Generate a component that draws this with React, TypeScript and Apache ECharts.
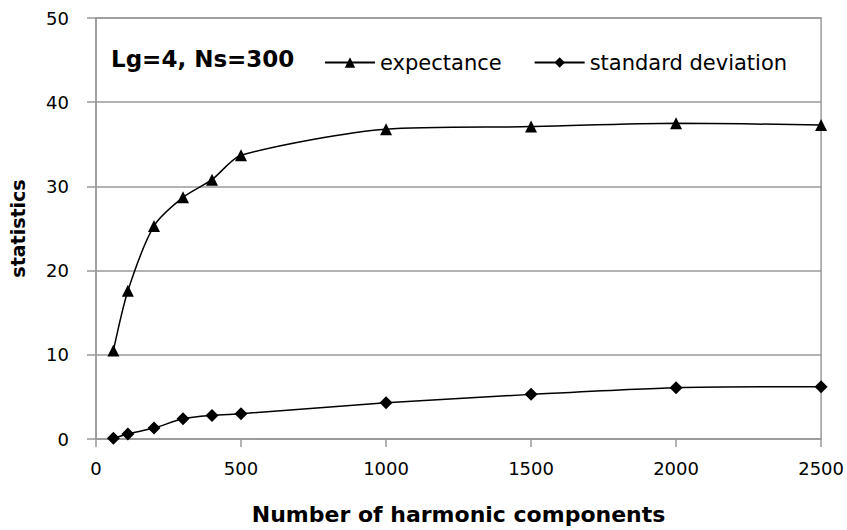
import React, { useEffect, useRef } from "react";
import * as echarts from "echarts";

const harmonics = [60, 110, 200, 300, 400, 500, 1000, 1500, 2000, 2500];
const expectance = [10.5, 17.6, 25.3, 28.7, 30.8, 33.7, 36.8, 37.1, 37.5, 37.3];
const stdDeviation = [0.1, 0.6, 1.3, 2.4, 2.8, 3.0, 4.3, 5.3, 6.1, 6.2];
const seriesNames = ["expectance", "standard deviation"];
const annotation = "Lg=4, Ns=300";
const xTitle = "Number of harmonic components";
const yTitle = "statistics";

const FONT = "'DejaVu Sans', sans-serif";

export default function App() {
  const ref = useRef<HTMLDivElement>(null);
  useEffect(() => {
    if (!ref.current) return;
    const chart = echarts.init(ref.current, undefined, { renderer: "svg" });
    const pair = (ys: number[]) => harmonics.map((x, i) => [x, ys[i]]);
    chart.setOption({
      animation: false,
      backgroundColor: "#ffffff",
      textStyle: { fontFamily: FONT },
      grid: {
        left: 90,
        right: 25,
        top: 18,
        bottom: 89,
        show: true,
        borderColor: "#9a9a9a",
        borderWidth: 1.5,
      },
      graphic: [
        {
          type: "text",
          left: 111,
          top: 47,
          style: {
            text: annotation,
            font: `bold 23px ${FONT}`,
            fill: "#000",
          },
        },
      ],
      legend: {
        left: 319,
        top: 47,
        itemWidth: 50,
        itemHeight: 13,
        itemGap: 32,
        textStyle: { fontSize: 21, color: "#000", fontFamily: FONT },
        data: seriesNames,
      },
      xAxis: {
        type: "value",
        min: 0,
        max: 2500,
        interval: 500,
        name: xTitle,
        nameLocation: "middle",
        nameGap: 64,
        nameTextStyle: { fontSize: 22, fontWeight: "bold", color: "#000", fontFamily: FONT },
        axisLine: { show: true, lineStyle: { color: "#9a9a9a", width: 1.5 } },
        axisTick: { show: true, length: 8, lineStyle: { color: "#9a9a9a", width: 1.5 } },
        axisLabel: {
          fontSize: 18,
          color: "#000",
          margin: 20,
          fontFamily: FONT,
          formatter: (v: number) => String(v),
        },
        splitLine: { show: false },
      },
      yAxis: {
        type: "value",
        min: 0,
        max: 50,
        interval: 10,
        name: yTitle,
        nameLocation: "middle",
        nameGap: 69,
        nameTextStyle: { fontSize: 19, fontWeight: "bold", color: "#000", fontFamily: FONT },
        axisLine: { show: true, lineStyle: { color: "#9a9a9a", width: 1.5 } },
        axisTick: { show: true, length: 9, lineStyle: { color: "#9a9a9a", width: 1.5 } },
        axisLabel: { fontSize: 18, color: "#000", margin: 27, fontFamily: FONT },
        splitLine: { show: true, lineStyle: { color: "#9a9a9a", width: 1.5 } },
      },
      series: [
        {
          name: seriesNames[0],
          type: "line",
          data: pair(expectance),
          smooth: 0.25,
          symbol: "triangle",
          symbolSize: 12,
          itemStyle: { color: "#000" },
          lineStyle: { color: "#000", width: 1.5 },
        },
        {
          name: seriesNames[1],
          type: "line",
          data: pair(stdDeviation),
          smooth: 0.25,
          symbol: "diamond",
          symbolSize: 13,
          itemStyle: { color: "#000" },
          lineStyle: { color: "#000", width: 1.5 },
        },
      ],
    });
    return () => chart.dispose();
  }, []);
  return <div ref={ref} style={{ width: 847, height: 530, position: "absolute", left: 0, top: 0 }} />;
}
